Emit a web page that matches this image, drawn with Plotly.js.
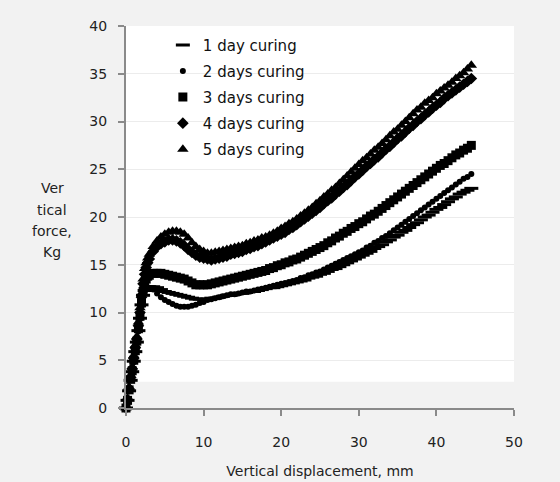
<!DOCTYPE html>
<html>
<head>
<meta charset="utf-8">
<script src="https://cdn.plot.ly/plotly-3.0.1.min.js"></script>
<style>html,body{margin:0;padding:0;background:#f2f2f2;}#chart{width:560px;height:482px;}</style>
</head>
<body>
<div id="chart"></div>
<script>
// Vertical displacement, mm
const displacement = [0,0.2,0.4,0.6,0.8,1.0,1.2,1.4,1.6,1.8,2.0,2.2,2.4,2.6,2.8,3.0,
3.5,4,4.5,5,5.5,6,6.5,7,7.5,8,8.5,9,9.5,
10,10.5,11,11.5,12,12.5,13,13.5,14,14.5,15,15.5,16,16.5,17,17.5,18,18.5,19,19.5,
20,20.5,21,21.5,22,22.5,23,23.5,24,24.5,25,25.5,26,26.5,27,27.5,28,28.5,29,29.5,
30,30.5,31,31.5,32,32.5,33,33.5,34,34.5,35,35.5,36,36.5,37,37.5,38,38.5,39,39.5,
40,40.5,41,41.5,42,42.5,43,43.5,44,44.5];

// Vertical force, Kg
const day1 = [0,0.8,1.8,2.9,3.8,4.9,5.9,6.9,8.1,9.4,10.8,11.8,12.3,12.6,12.7,12.7,
12.7,12.6,12.4,12.2,12.1,12.0,11.9,11.8,11.7,11.6,11.5,11.4,11.4,
11.4,11.4,11.5,11.5,11.6,11.7,11.8,11.8,11.9,12.0,12.0,12.1,12.2,12.2,12.3,12.4,12.5,12.6,12.6,12.7,
12.8,12.9,13.0,13.1,13.2,13.3,13.4,13.6,13.7,13.8,14.0,14.1,14.3,14.5,14.6,14.8,15.0,15.2,15.4,15.6,
15.8,16.0,16.2,16.4,16.7,16.9,17.1,17.4,17.6,17.9,18.1,18.4,18.6,18.9,19.2,19.4,19.7,20.0,20.2,20.5,
20.8,21.0,21.3,21.6,21.9,22.1,22.4,22.6,22.8,23.0];

const day2 = [0,0.7,1.8,2.9,3.8,4.8,5.8,6.8,8.0,9.3,10.6,11.6,12.2,12.5,12.6,12.6,
12.4,12.0,11.6,11.3,11.1,10.9,10.7,10.6,10.6,10.6,10.7,10.8,11.0,
11.1,11.3,11.4,11.5,11.6,11.7,11.8,11.9,11.9,12.0,12.1,12.2,12.2,12.3,12.4,12.5,12.6,12.7,12.8,12.9,
13.0,13.1,13.2,13.3,13.4,13.6,13.7,13.9,14.0,14.2,14.3,14.5,14.7,14.9,15.1,15.3,15.5,15.7,15.9,16.1,
16.3,16.5,16.8,17.0,17.3,17.5,17.8,18.0,18.3,18.6,18.9,19.2,19.5,19.8,20.1,20.4,20.7,21.0,21.3,21.6,
21.9,22.2,22.5,22.8,23.1,23.4,23.7,24.0,24.2,24.5];

const day3 = [0,0.8,1.9,3.0,3.9,5.0,6.0,7.0,8.3,9.6,11.0,12.2,13.0,13.5,13.8,13.9,
14.1,14.1,14.1,14.0,13.9,13.8,13.7,13.6,13.5,13.3,13.1,12.9,12.9,
12.9,12.9,13.0,13.1,13.2,13.3,13.4,13.5,13.6,13.7,13.8,13.9,14.0,14.1,14.2,14.3,14.4,14.6,14.7,14.9,
15.0,15.2,15.3,15.5,15.6,15.8,16.0,16.2,16.4,16.6,16.8,17.0,17.3,17.5,17.8,18.0,18.3,18.5,18.8,19.0,
19.3,19.5,19.8,20.1,20.3,20.6,20.9,21.2,21.5,21.8,22.1,22.4,22.7,23.0,23.3,23.6,23.9,24.2,24.5,24.8,
25.1,25.4,25.6,25.9,26.2,26.5,26.7,27.0,27.2,27.5];

const day4 = [0,0.9,2.0,3.2,4.1,5.2,6.3,7.2,8.6,10.0,11.6,13.0,14.0,14.7,15.2,15.6,
16.4,16.9,17.2,17.4,17.6,17.6,17.5,17.3,17.0,16.6,16.3,16.0,15.8,
15.7,15.6,15.5,15.6,15.7,15.8,15.9,16.1,16.2,16.3,16.4,16.6,16.7,16.9,17.0,17.2,17.4,17.6,17.8,18.0,
18.2,18.4,18.7,18.9,19.2,19.5,19.8,20.1,20.4,20.7,21.0,21.4,21.7,22.0,22.4,22.7,23.1,23.4,23.8,24.2,
24.5,24.9,25.3,25.6,26.0,26.3,26.7,27.1,27.4,27.8,28.2,28.5,28.9,29.3,29.6,30.0,30.3,30.7,31.0,31.4,
31.7,32.0,32.4,32.7,33.0,33.3,33.6,33.9,34.2,34.5];

const day5 = [0,1.0,2.2,3.4,4.3,5.5,6.6,7.5,9.0,10.5,12.0,13.5,14.6,15.2,15.7,16.1,
16.9,17.5,17.9,18.2,18.4,18.5,18.5,18.4,18.2,17.8,17.3,16.9,16.6,
16.4,16.2,16.2,16.3,16.4,16.5,16.6,16.7,16.8,16.9,17.0,17.2,17.3,17.5,17.6,17.8,17.9,18.1,18.3,18.5,
18.8,19.0,19.3,19.5,19.8,20.1,20.4,20.7,21.0,21.4,21.7,22.1,22.4,22.8,23.1,23.5,23.9,24.3,24.7,25.1,
25.5,25.9,26.2,26.6,27.0,27.3,27.7,28.1,28.5,28.9,29.2,29.6,30.0,30.4,30.8,31.2,31.5,31.9,32.2,32.5,
32.9,33.2,33.5,33.8,34.1,34.5,34.8,35.1,35.5,35.9];

const seriesNames = ['1 day curing','2 days curing','3 days curing','4 days curing','5 days curing'];
const xTicks = [0,10,20,30,40,50];
const yTicks = [0,5,10,15,20,25,30,35,40];
const yTitleLines = ['Ver','tical','force,','Kg'];

const FONT = 'DejaVu Sans, Verdana, sans-serif';
const TXT = '#222';
const symbols = [
  {symbol:'line-ew', size:10, line:{width:3, color:'#000'}},
  {symbol:'circle', size:6, line:{width:0}},
  {symbol:'square', size:9, line:{width:0}},
  {symbol:'diamond', size:9, line:{width:0}},
  {symbol:'triangle-up', size:10, line:{width:0}}
];
const ys = [day1, day2, day3, day4, day5];

const traces = ys.map((y, i) => ({
  type:'scatter', mode:'markers', x:displacement, y:y, name:seriesNames[i],
  legendgroup:'g'+i, cliponaxis:false,
  marker:Object.assign({color:'#000'}, symbols[i])
}));

const yTitlePos = [188, 209.5, 231, 252.5];
const annotations = yTitleLines.map((t, i) => ({
  xref:'paper', yref:'paper', x:-0.19, y:(408 - yTitlePos[i]) / 382,
  xanchor:'center', yanchor:'middle', showarrow:false, text:t,
  font:{family:FONT, size:14, color:TXT}
}));

const layout = {
  width:560, height:482,
  paper_bgcolor:'#f2f2f2', plot_bgcolor:'rgba(0,0,0,0)',
  margin:{l:126, r:46, t:26, b:74},
  font:{family:FONT, color:TXT, size:14},
  showlegend:true,
  legend:{x:0.095, y:0.993, xanchor:'left', yanchor:'top', bgcolor:'rgba(0,0,0,0)',
    font:{family:FONT, size:15, color:'#111'}, traceorder:'grouped', tracegroupgap:3.6, itemwidth:30},
  xaxis:{range:[0,50], tickvals:xTicks, ticks:'outside', ticklen:6, tickwidth:2, tickcolor:'#8a8a8a',
    showline:true, linecolor:'#8a8a8a', linewidth:2, showgrid:false, zeroline:false,
    ticklabelstandoff:14, tickfont:{size:14, color:TXT},
    title:{text:'Vertical displacement, mm', font:{size:14, color:TXT}, standoff:17}},
  yaxis:{range:[0,40], tickvals:yTicks, ticks:'outside', ticklen:6, tickwidth:2, tickcolor:'#8a8a8a',
    showline:true, linecolor:'#8a8a8a', linewidth:2, showgrid:true, gridcolor:'#ececec', gridwidth:1,
    zeroline:false, ticklabelstandoff:8, tickfont:{size:14, color:TXT}},
  shapes:[{type:'rect', xref:'x', yref:'y', x0:-1.4, x1:52.3, y0:2.75, y1:40.3,
    fillcolor:'#ffffff', line:{width:0}, layer:'below'}],
  annotations:annotations
};

Plotly.newPlot('chart', traces, layout, {displayModeBar:false, staticPlot:true});
</script>
</body>
</html>
